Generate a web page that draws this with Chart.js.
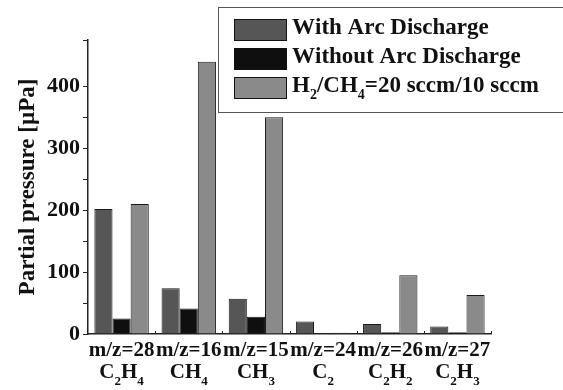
<!DOCTYPE html>
<html>
<head>
<meta charset="utf-8">
<script src="https://cdn.jsdelivr.net/npm/chart.js@4"></script>
<style>
  html, body { margin: 0; padding: 0; background: #fff; }
  #wrap { width: 563px; height: 390px; }
</style>
</head>
<body>
<div id="wrap"><canvas id="bar-chart"></canvas></div>
<script>
// "_" marks the next character as subscript
var masse = ['m/z=28', 'm/z=16', 'm/z=15', 'm/z=24', 'm/z=26', 'm/z=27'];
var specie = ['C_2H_4', 'CH_4', 'CH_3', 'C_2', 'C_2H_2', 'C_2H_3'];
var conArco = [202, 74, 57, 20, 16, 12];
var senzaArco = [25, 41, 28, 0, 3, 3];
var h2ch4 = [210, 440, 350, 2, 95, 63];
var nomiSerie = ['With Arc Discharge', 'Without Arc Discharge', 'H_2/CH_4=20 sccm/10 sccm'];
var coloriSerie = ['#565656', '#0f0f0f', '#8a8a8a'];
var yMax = 475;

var FONT = '"Liberation Serif", "Times New Roman", serif';

// testo con pedici
function drawRich(ctx, str, x, y, size, align) {
  var parts = [];
  for (var i = 0; i < str.length; i++) {
    if (str[i] === '_' && i + 1 < str.length) {
      parts.push({ t: str[i + 1], sub: true });
      i++;
    } else {
      parts.push({ t: str[i], sub: false });
    }
  }
  var big = 'bold ' + size + 'px ' + FONT;
  var small = 'bold ' + Math.round(size * 0.6) + 'px ' + FONT;
  var w = 0;
  parts.forEach(function(p) {
    ctx.font = p.sub ? small : big;
    p.w = ctx.measureText(p.t).width;
    w += p.w;
  });
  var cx = align === 'center' ? x - w / 2 : x;
  ctx.textAlign = 'left';
  ctx.textBaseline = 'middle';
  parts.forEach(function(p) {
    ctx.font = p.sub ? small : big;
    ctx.fillText(p.t, cx, p.sub ? y + size * 0.42 : y);
    cx += p.w;
  });
}

var decorazioni = {
  id: 'decorazioni',
  afterDraw: function(chart) {
    var ctx = chart.ctx;
    var xs = chart.scales.x;
    var area = chart.chartArea;
    ctx.save();
    ctx.fillStyle = '#111';
    // etichette asse x
    for (var i = 0; i < masse.length; i++) {
      var cx = xs.getPixelForValue(i);
      drawRich(ctx, masse[i], cx, 351, 21, 'center');
      drawRich(ctx, specie[i], cx, 373, 21, 'center');
    }
    // tacche asse x verso l'interno
    ctx.strokeStyle = '#222';
    ctx.lineWidth = 1;
    var step = (area.right - area.left) / masse.length;
    for (var k = 1; k <= masse.length; k++) {
      var tx = Math.round(area.left + k * step) + 0.5;
      ctx.beginPath();
      ctx.moveTo(tx, area.bottom);
      ctx.lineTo(tx, area.bottom - 3);
      ctx.stroke();
    }
    // legenda
    var lx = 218, ly = 7, lw = 350, lh = 105;
    ctx.fillStyle = '#fff';
    ctx.fillRect(lx, ly, lw, lh);
    ctx.strokeStyle = '#555';
    ctx.lineWidth = 1;
    ctx.strokeRect(lx + 0.5, ly + 0.5, lw, lh);
    for (var j = 0; j < nomiSerie.length; j++) {
      var ry = 19 + j * 29;
      ctx.fillStyle = coloriSerie[j];
      ctx.fillRect(234, ry, 52, 21);
      ctx.strokeStyle = '#111';
      ctx.strokeRect(234.5, ry + 0.5, 52, 21);
      ctx.fillStyle = '#111';
      drawRich(ctx, nomiSerie[j], 292, ry + 9, 23, 'left');
    }
    ctx.restore();
  }
};

var datasets = [conArco, senzaArco, h2ch4].map(function(d, i) {
  return {
    label: nomiSerie[i],
    data: d,
    backgroundColor: coloriSerie[i],
    borderColor: '#1a1a1a',
    borderWidth: 1,
    barPercentage: 1,
    categoryPercentage: 0.81
  };
});

var ctx = document.getElementById('bar-chart');
var barChart = new Chart(ctx, {
  type: 'bar',
  data: {
    labels: masse,
    datasets: datasets
  },
  options: {
    responsive: true,
    maintainAspectRatio: false,
    animation: false,
    layout: { padding: { top: 40, right: 72, left: 0, bottom: 0 } },
    plugins: {
      legend: { display: false },
      tooltip: { enabled: false }
    },
    scales: {
      x: {
        ticks: { display: false },
        grid: { display: false },
        border: { display: true, color: '#222', width: 1.5 },
        afterFit: function(scale) { scale.height = 56; }
      },
      y: {
        min: 0,
        max: yMax,
        ticks: {
          stepSize: 50,
          autoSkip: false,
          color: '#111',
          padding: 3,
          font: { family: FONT, size: 22, weight: 'bold' },
          callback: function(v) { return v % 100 === 0 ? v : ''; }
        },
        grid: {
          drawOnChartArea: false,
          tickLength: 5,
          color: '#222'
        },
        border: { display: true, color: '#222', width: 1.5 },
        title: {
          display: true,
          text: 'Partial pressure [µPa]',
          color: '#111',
          font: { family: FONT, size: 23, weight: 'bold' },
          padding: { top: 14, bottom: 2 }
        },
        afterFit: function(scale) { scale.width = 88; }
      }
    }
  },
  plugins: [decorazioni]
});
</script>
</body>
</html>
